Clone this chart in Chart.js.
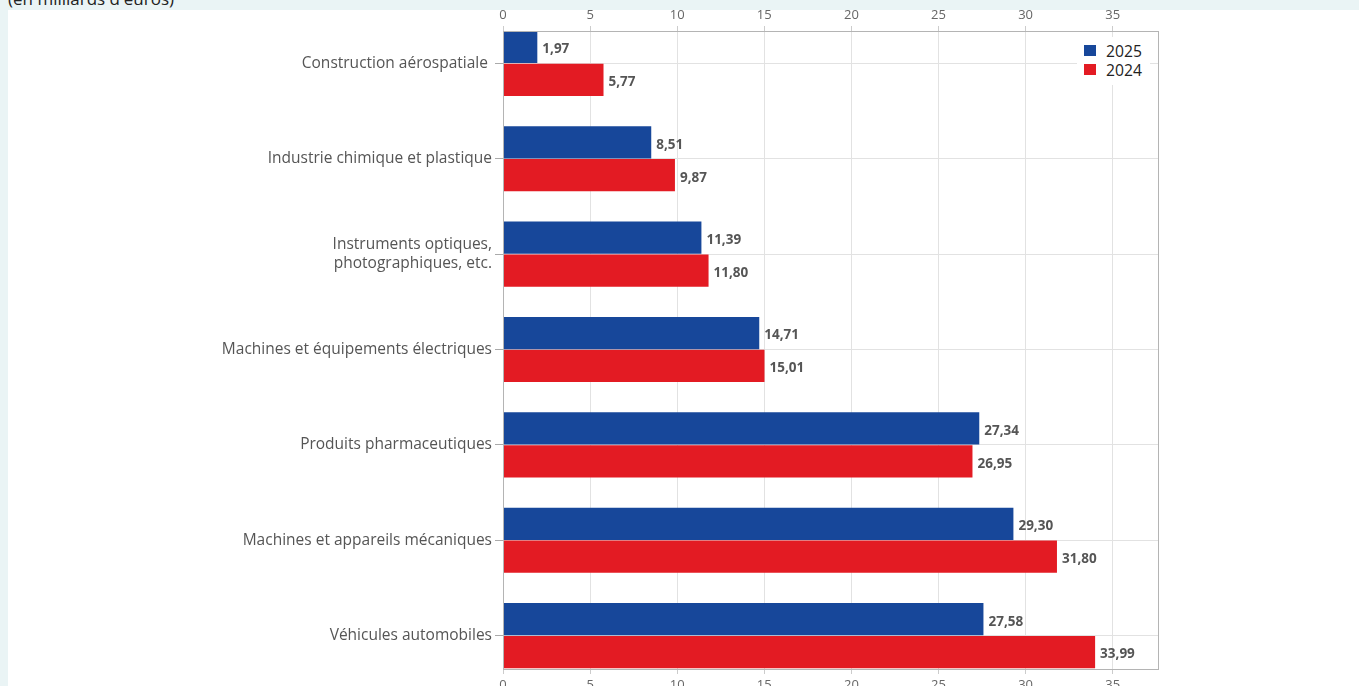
<!DOCTYPE html>
<html>
<head>
<meta charset="utf-8">
<script src="https://cdn.jsdelivr.net/npm/chart.js@4"></script>
<style>
  body { margin: 0; background: #eaf4f5; font-family: "Open Sans", sans-serif; overflow: hidden; }
  #title { position: absolute; left: 8px; top: -11px; font-size: 17px; line-height: 20px; color: #222; }
  #panel { position: absolute; left: 8px; top: 10px; width: 1351px; height: 676px; background: #fff; }
  #legend { position: absolute; left: 1077px; top: 37px; width: 73px; background: #fff; padding: 4px 0 6px 0; }
  .item { display: flex; align-items: center; height: 19px; font-size: 15.7px; color: #222; }
  .sw { width: 12px; height: 11px; margin: 0 10px 0 7px; }
</style>
</head>
<body>
<div id="title">(en milliards d'euros)</div>
<div id="panel"><canvas id="c" width="1351" height="676"></canvas></div>
<div id="legend"></div>
<script>
// categories, top to bottom
const categories = [
    'Construction aérospatiale ',
    'Industrie chimique et plastique',
    ['Instruments optiques,', 'photographiques, etc.'],
    'Machines et équipements électriques',
    'Produits pharmaceutiques',
    'Machines et appareils mécaniques',
    'Véhicules automobiles'
];
const values2025 = [1.97, 8.51, 11.39, 14.71, 27.34, 29.30, 27.58];
const values2024 = [5.77, 9.87, 11.80, 15.01, 26.95, 31.80, 33.99];
const xTicks = [0, 5, 10, 15, 20, 25, 30, 35];

const blue = '#17479a';
const red = '#e31b23';

const toPoints = (vals) => vals.map((v, i) => ({ x: v, y: i }));
const fmt = (v) => v.toFixed(2).replace('.', ',');

// value labels at the end of each bar
const barLabels = {
    id: 'barLabels',
    afterDatasetsDraw(chart) {
        const ctx = chart.ctx;
        ctx.save();
        ctx.font = 'bold 13.5px "Open Sans"';
        ctx.fillStyle = '#555';
        ctx.textBaseline = 'middle';
        chart.data.datasets.forEach((ds, di) => {
            chart.getDatasetMeta(di).data.forEach((bar, i) => {
                ctx.fillText(fmt(ds.data[i].x), bar.x + 5, bar.y + 2.5);
            });
        });
        ctx.restore();
    }
};

// grey box round the plot
const frame = {
    id: 'frame',
    afterDraw(chart) {
        const a = chart.chartArea;
        const ctx = chart.ctx;
        ctx.save();
        ctx.strokeStyle = '#b4b4b4';
        ctx.lineWidth = 1;
        ctx.strokeRect(a.left + 0.5, a.top + 0.5, a.right - a.left, a.bottom - a.top);
        ctx.restore();
    }
};

const keepXTicks = (scale) => {
    scale.ticks = xTicks.map(v => ({ value: v }));
};

const chart = new Chart(document.getElementById('c'), {
    type: 'bar',
    data: {
        datasets: [
            { label: '2025', data: toPoints(values2025), backgroundColor: blue },
            { label: '2024', data: toPoints(values2024), backgroundColor: red }
        ]
    },
    options: {
        responsive: false,
        animation: false,
        indexAxis: 'y',
        categoryPercentage: 0.69,
        barPercentage: 0.98,
        layout: { padding: { left: 0, right: 201, top: 0, bottom: 0 } },
        plugins: { legend: { display: false }, tooltip: { enabled: false } },
        scales: {
            y: {
                type: 'linear',
                reverse: true,
                offset: false,
                min: -0.34,
                max: 6.35,
                afterBuildTicks: (scale) => { scale.ticks = categories.map((_, i) => ({ value: i })); },
                afterFit: (scale) => { scale.width = 495; },
                ticks: {
                    callback: (v) => categories[v],
                    color: '#555',
                    font: { family: 'Open Sans', size: 15.5 },
                    padding: 3
                },
                grid: { offset: false, color: '#e2e2e2', tickLength: 8, tickColor: '#aaa' },
                border: { color: '#aaa' }
            },
            x: {
                position: 'bottom',
                min: 0,
                max: 37.6,
                afterBuildTicks: keepXTicks,
                afterFit: (scale) => { scale.height = 17; },
                ticks: { color: '#666', font: { family: 'Open Sans', size: 13 }, padding: 3 },
                grid: { color: '#e2e2e2', tickLength: 5, tickColor: '#ccc' },
                border: { display: false }
            },
            x2: {
                position: 'top',
                min: 0,
                max: 37.6,
                afterBuildTicks: keepXTicks,
                afterFit: (scale) => { scale.height = 21; },
                ticks: { color: '#666', font: { family: 'Open Sans', size: 13 }, padding: 3 },
                grid: { drawOnChartArea: false, tickLength: 5, tickColor: '#ccc' },
                border: { display: false }
            }
        }
    },
    plugins: [barLabels, frame]
});

// legend built from the datasets
const legend = document.getElementById('legend');
chart.data.datasets.forEach(ds => {
    const item = document.createElement('div');
    item.className = 'item';
    item.innerHTML = '<span class="sw" style="background:' + ds.backgroundColor + '"></span>' + ds.label;
    legend.appendChild(item);
});
</script>
</body>
</html>
